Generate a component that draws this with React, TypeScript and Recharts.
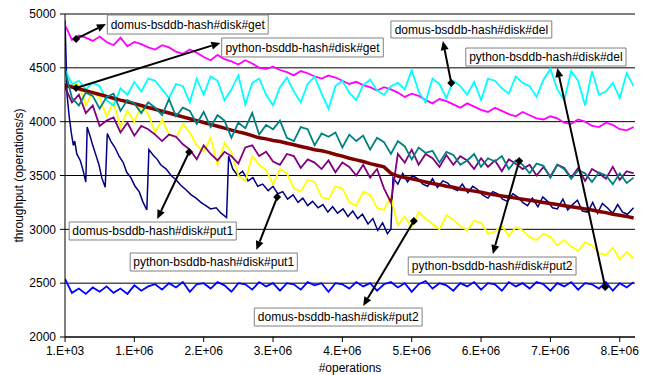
import {
  CartesianGrid,
  Label,
  Line,
  LineChart,
  ReferenceArea,
  ReferenceLine,
  XAxis,
  YAxis,
} from "recharts";

// #operations in millions for the evenly sampled series
const opsGrid = [
  0, 0.1, 0.2, 0.3, 0.4, 0.5, 0.6, 0.7, 0.8, 0.9,
  1, 1.1, 1.2, 1.3, 1.4, 1.5, 1.6, 1.7, 1.8, 1.9,
  2, 2.1, 2.2, 2.3, 2.4, 2.5, 2.6, 2.7, 2.8, 2.9,
  3, 3.1, 3.2, 3.3, 3.4, 3.5, 3.6, 3.7, 3.8, 3.9,
  4, 4.1, 4.2, 4.3, 4.4, 4.5, 4.6, 4.7, 4.8, 4.9,
  5, 5.1, 5.2, 5.3, 5.4, 5.5, 5.6, 5.7, 5.8, 5.9,
  6, 6.1, 6.2, 6.3, 6.4, 6.5, 6.6, 6.7, 6.8, 6.9,
  7, 7.1, 7.2, 7.3, 7.4, 7.5, 7.6, 7.7, 7.8, 7.9,
  8, 8.1, 8.2,
];

const domusGet = [
  4900, 4760, 4800, 4780, 4750, 4790, 4740, 4710, 4780, 4700,
  4740, 4720, 4690, 4670, 4710, 4690, 4650, 4630, 4670, 4640,
  4600, 4570, 4620, 4580, 4560, 4530, 4570, 4540, 4500, 4490,
  4510, 4480, 4460, 4430, 4470, 4450, 4420, 4400, 4430, 4410,
  4380, 4350, 4370, 4340, 4320, 4290, 4320, 4300, 4270, 4230,
  4260, 4240, 4200, 4170, 4210, 4190, 4160, 4130, 4170, 4140,
  4110, 4090, 4130, 4100, 4070, 4050, 4090, 4060, 4030, 4020,
  4050, 4030, 3990, 3980, 4020, 4000, 3960, 3950, 3990, 3970,
  3930, 3920, 3950,
];

const domusDel = [
  4480, 4350, 4380, 4300, 4360, 4330, 4200, 4150, 4310, 4250,
  4370, 4280, 4400, 4380, 4300, 4220, 4350, 4330, 4180, 4400,
  4250, 4420, 4380, 4200, 4300, 4430, 4160, 4360, 4400, 4250,
  4150, 4320, 4410, 4280, 4180, 4350, 4420, 4260, 4120, 4330,
  4380, 4270, 4200, 4340, 4390, 4290, 4250, 4330, 4360, 4300,
  4480, 4280, 4180, 4400, 4350, 4220, 4380, 4330, 4250, 4370,
  4200, 4400, 4380, 4310, 4260, 4420, 4360, 4330, 4230, 4390,
  4490, 4300, 4200, 4470, 4380, 4150, 4470, 4250, 4280, 4360,
  4220, 4450, 4330,
];

const pythonGet = [
  4340, 4322, 4305, 4287, 4270, 4252, 4235, 4217, 4200, 4185,
  4167, 4150, 4132, 4115, 4097, 4080, 4062, 4045, 4027, 4010,
  3992, 3975, 3957, 3940, 3922, 3905, 3890, 3870, 3850, 3840,
  3825, 3815, 3800, 3785, 3770, 3755, 3740, 3730, 3715, 3695,
  3680, 3660, 3645, 3630, 3610, 3595, 3580, 3520, 3495, 3480,
  3470, 3455, 3440, 3425, 3415, 3400, 3390, 3375, 3365, 3355,
  3345, 3330, 3320, 3310, 3300, 3290, 3280, 3270, 3260, 3250,
  3240, 3230, 3220, 3210, 3200, 3190, 3180, 3165, 3155, 3140,
  3130, 3120, 3105,
];

const pythonPut2 = [
  4480, 4220, 4150, 4270, 4240, 4120, 4230, 4260, 4100, 4200,
  4170, 4080, 4180, 4130, 4060, 4210, 4050, 4130, 4100, 3980,
  4090, 3950, 4060, 4010, 3850, 3990, 3940, 4080, 3880, 3970,
  3930, 4010, 3850, 3820, 3950, 3930, 3780, 3890, 3860, 3900,
  3760, 3880, 3820, 3870, 3740, 3850, 3810, 3700, 3820, 3770,
  3650, 3760, 3710, 3730, 3620, 3720, 3690, 3600, 3640, 3700,
  3580, 3660, 3630, 3680, 3560, 3640, 3600, 3520, 3610, 3590,
  3480, 3600, 3560, 3470, 3550, 3520, 3440, 3530, 3500, 3420,
  3520, 3430, 3480,
];

const domusPut1 = [
  4320, 4180, 4250, 4080, 4150, 3960, 4010, 4040, 3900, 3990,
  3870, 3960, 3930, 3880, 3820, 3880, 3860, 3790, 3740, 3650,
  3780, 3700, 3640, 3720, 3680, 3610, 3760, 3780, 3680, 3720,
  3630, 3600, 3700, 3680, 3570, 3650, 3620, 3560, 3640, 3530,
  3620, 3580, 3500, 3600, 3480, 3560, 3380, 3250, 3700, 3620,
  3740, 3600, 3700, 3660, 3580, 3690, 3600, 3680, 3640, 3560,
  3660, 3580, 3640, 3540, 3650, 3610, 3560, 3600, 3500, 3580,
  3490, 3600, 3570, 3480, 3570, 3450, 3560, 3520, 3470, 3580,
  3460, 3540, 3520,
];

const domusPut2 = [
  4450, 4350, 4340, 4150, 4280, 4220, 4050, 4180, 3950, 4100,
  4000, 4150, 4070, 3900, 4020, 3880, 3850, 3980, 3900, 3780,
  3720, 3850, 3600, 3800, 3720, 3500, 3450, 3680, 3600, 3550,
  3420, 3560, 3520, 3380, 3350, 3460, 3440, 3300, 3280, 3400,
  3380, 3250, 3220, 3350, 3320, 3200, 3180, 3300, 3040, 3120,
  3020, 3160, 3100, 3050, 3000, 3130, 3090, 3030, 2990, 3080,
  3060, 2960, 2980, 3030, 2940, 3020, 2990, 2930, 2900, 2960,
  2930, 2850, 2900, 2840, 2800, 2880, 2850, 2780, 2760, 2830,
  2720, 2790, 2730,
];

const pythonDel = [
  2540, 2410, 2450, 2400, 2460, 2420, 2470, 2410, 2450, 2400,
  2480, 2430, 2470, 2490, 2440, 2500, 2460, 2510, 2420, 2490,
  2500, 2450, 2510, 2480, 2420, 2500, 2490, 2440, 2510, 2470,
  2500, 2430, 2500, 2490, 2440, 2510, 2480, 2500, 2420, 2500,
  2490, 2450, 2510, 2470, 2500, 2430, 2490, 2510, 2460, 2500,
  2420, 2490, 2520, 2450, 2500, 2480, 2430, 2500, 2470, 2510,
  2440, 2500, 2490, 2430, 2510, 2470, 2500, 2450, 2510, 2490,
  2430, 2500, 2470, 2510, 2440, 2500, 2490, 2450, 2510, 2430,
  2500, 2460, 2510,
];

// python put1 has its own samples so the saw-tooth drops stay sharp
const pythonPut1Ops = [
  0, 0.03, 0.06, 0.09, 0.12, 0.14, 0.17, 0.22, 0.26, 0.3,
  0.32, 0.36, 0.4, 0.45, 0.49, 0.53, 0.58,
  0.61, 0.66, 0.72, 0.78, 0.84, 0.89, 0.95, 1.01, 1.07, 1.12, 1.18,
  1.21, 1.27, 1.33, 1.38, 1.46, 1.53, 1.6, 1.67, 1.74, 1.82, 1.89, 1.96, 2.03, 2.1, 2.18, 2.25, 2.33,
  2.36, 2.42, 2.49, 2.56, 2.64, 2.71, 2.78, 2.85, 2.93, 3.0, 3.07, 3.14, 3.21, 3.29, 3.36, 3.43,
  3.5, 3.57, 3.65, 3.72, 3.79, 3.86, 3.93, 4.01, 4.08, 4.15, 4.22, 4.29, 4.37, 4.44, 4.51, 4.58,
  4.65, 4.7,
  4.73, 4.8, 4.87, 4.94, 5.01, 5.09, 5.16, 5.23, 5.3, 5.37, 5.45, 5.52, 5.59, 5.66, 5.73, 5.81,
  5.88, 5.95, 6.02, 6.1, 6.17, 6.24, 6.31, 6.38, 6.46, 6.53, 6.6, 6.67, 6.74, 6.82, 6.89, 6.96,
  7.03, 7.1, 7.18, 7.25, 7.32, 7.39, 7.46, 7.54, 7.61, 7.68, 7.75, 7.82, 7.9, 7.97, 8.04, 8.11, 8.2,
];
const pythonPut1 = [
  4940, 4250, 4050, 3900, 3780, 3820, 3700, 3640, 3550, 3440,
  3950, 3870, 3780, 3680, 3600, 3480, 3390,
  3890, 3820, 3760, 3680, 3620, 3530, 3480, 3400, 3350, 3260, 3180,
  3740, 3690, 3650, 3600, 3560, 3500, 3460, 3410, 3370, 3320, 3290, 3250, 3220, 3190, 3200, 3150, 3110,
  3680, 3560, 3500, 3540, 3450, 3480, 3400, 3420, 3360, 3400, 3330, 3350, 3280, 3320, 3250, 3290,
  3220, 3260, 3200, 3230, 3160, 3210, 3150, 3190, 3120, 3170, 3100, 3140, 3050, 3100, 2990, 3060,
  2960, 3000,
  3480, 3420, 3520, 3440, 3500, 3470, 3420, 3400, 3470, 3390, 3450, 3430, 3380, 3360, 3420, 3340,
  3400, 3370, 3320, 3290, 3350, 3330, 3280, 3260, 3330, 3300, 3250, 3220, 3290, 3210, 3300, 3260,
  3200, 3190, 3280, 3180, 3230, 3270, 3170, 3160, 3250, 3150, 3240, 3200, 3150, 3230, 3160, 3140, 3200,
];

const xTicks = [0.001, 1, 2, 3, 4, 5, 6, 7, 8];
const xTickLabels = ["1.E+03", "1.E+06", "2.E+06", "3.E+06", "4.E+06", "5.E+06", "6.E+06", "7.E+06", "8.E+06"];
const yTicks = [2000, 2500, 3000, 3500, 4000, 4500, 5000];

// drawn in this order (later on top)
const series = [
  { key: "python-bsddb-hash#disk#put1", color: "#000080", ops: pythonPut1Ops, values: pythonPut1, width: 1.5 },
  { key: "domus-bsddb-hash#disk#get", color: "#FF00FF", ops: opsGrid, values: domusGet, width: 1.8 },
  { key: "domus-bsddb-hash#disk#put2", color: "#FFFF00", ops: opsGrid, values: domusPut2, width: 1.8 },
  { key: "domus-bsddb-hash#disk#del", color: "#00FFFF", ops: opsGrid, values: domusDel, width: 1.8 },
  { key: "domus-bsddb-hash#disk#put1", color: "#800080", ops: opsGrid, values: domusPut1, width: 1.8 },
  { key: "python-bsddb-hash#disk#get", color: "#800000", ops: opsGrid, values: pythonGet, width: 3.5 },
  { key: "python-bsddb-hash#disk#put2", color: "#008080", ops: opsGrid, values: pythonPut2, width: 1.8 },
  { key: "python-bsddb-hash#disk#del", color: "#0000FF", ops: opsGrid, values: pythonDel, width: 1.8 },
];

// callout boxes [x1, x2, y1, y2] and arrows (diamond at the curve, head at the box)
const callouts = [
  { text: "domus-bsddb-hash#disk#get", box: [0.61, 2.93, 4814, 4991], from: [0.16, 4768], to: [0.59, 4907] },
  { text: "python-bsddb-hash#disk#get", box: [2.26, 4.59, 4601, 4777], from: [0.16, 4313], to: [2.24, 4731] },
  { text: "domus-bsddb-hash#disk#del", box: [4.7, 7.02, 4777, 4935], from: [5.57, 4359], to: [5.45, 4749] },
  { text: "python-bsddb-hash#disk#del", box: [5.78, 8.09, 4517, 4684], from: [7.79, 2464], to: [7.1, 4498] },
  { text: "domus-bsddb-hash#disk#put1", box: [0.06, 2.47, 2901, 3068], from: [1.79, 3718], to: [1.33, 3096] },
  { text: "python-bsddb-hash#disk#put1", box: [0.94, 3.35, 2613, 2780], from: [3.06, 3300], to: [2.76, 2808] },
  { text: "python-bsddb-hash#disk#put2", box: [4.95, 7.37, 2576, 2743], from: [6.55, 3635], to: [6.17, 2771] },
  { text: "domus-bsddb-hash#disk#put2", box: [2.73, 5.15, 2102, 2269], from: [5.03, 3077], to: [4.3, 2288] },
];

const ArrowShape = (props: any) => {
  const { x1, y1, x2, y2 } = props;
  const dx = x2 - x1;
  const dy = y2 - y1;
  const len = Math.hypot(dx, dy) || 1;
  const ux = dx / len;
  const uy = dy / len;
  const hl = 9;
  const hw = 4;
  const bx = x2 - ux * hl;
  const by = y2 - uy * hl;
  const head = `${x2},${y2} ${bx - uy * hw},${by + ux * hw} ${bx + uy * hw},${by - ux * hw}`;
  const d = 4;
  const diamond = `${x1 - d},${y1} ${x1},${y1 - d} ${x1 + d},${y1} ${x1},${y1 + d}`;
  return (
    <g>
      <line x1={x1} y1={y1} x2={bx} y2={by} stroke="#000" strokeWidth={2} />
      <polygon points={head} fill="#000" />
      <polygon points={diamond} fill="#000" />
    </g>
  );
};

const YTitle = (props: any) => {
  const { x, y, height } = props.viewBox;
  return (
    <text
      transform={`translate(${x + 19},${y + height / 2}) rotate(-90)`}
      textAnchor="middle"
      dominantBaseline="central"
      fontSize={12}
      fill="#000"
    >
      throughput (operations/s)
    </text>
  );
};

export default function App() {
  return (
    <div style={{ position: "absolute", left: 0, top: 0, width: 650, height: 375, background: "#fff" }}>
      <LineChart
        width={650}
        height={375}
        margin={{ top: 14, right: 15, bottom: 0, left: 0 }}
        style={{ fontFamily: "'Liberation Sans', Arial, sans-serif" }}
      >
        <CartesianGrid vertical={false} stroke="#000" strokeWidth={1} />
        <XAxis
          dataKey="x"
          type="number"
          domain={[0, 8.22]}
          allowDataOverflow
          ticks={xTicks}
          interval={0}
          tickFormatter={(v: number) => xTickLabels[xTicks.indexOf(v)] ?? ""}
          height={38}
          tickSize={5}
          tickMargin={4}
          stroke="#000"
          tick={{ fill: "#000", fontSize: 12 }}
        >
          <Label value="#operations" position="insideBottom" offset={3} fill="#000" fontSize={12} />
        </XAxis>
        <YAxis
          type="number"
          domain={[2000, 5000]}
          ticks={yTicks}
          interval={0}
          width={65}
          tickSize={5}
          tickMargin={4}
          stroke="#000"
          tick={{ fill: "#000", fontSize: 12 }}
        >
          <Label content={YTitle} />
        </YAxis>
        {series.map((s) => (
          <Line
            key={s.key}
            name={s.key}
            data={s.ops.map((x, i) => ({ x, v: s.values[i] }))}
            dataKey="v"
            type="linear"
            stroke={s.color}
            strokeWidth={s.width}
            dot={false}
            activeDot={false}
            isAnimationActive={false}
          />
        ))}
        {callouts.map((c) => (
          <ReferenceArea
            key={c.text}
            x1={c.box[0]}
            x2={c.box[1]}
            y1={c.box[2]}
            y2={c.box[3]}
            fill="#fff"
            fillOpacity={1}
            stroke="#808080"
            strokeWidth={1}
            zIndex={1000}
            label={{ value: c.text, position: "center", fill: "#000", fontSize: 12 }}
          />
        ))}
        {callouts.map((c) => (
          <ReferenceLine
            key={c.text + "-arrow"}
            segment={[
              { x: c.from[0], y: c.from[1] },
              { x: c.to[0], y: c.to[1] },
            ]}
            zIndex={1100}
            shape={ArrowShape}
          />
        ))}
      </LineChart>
    </div>
  );
}
